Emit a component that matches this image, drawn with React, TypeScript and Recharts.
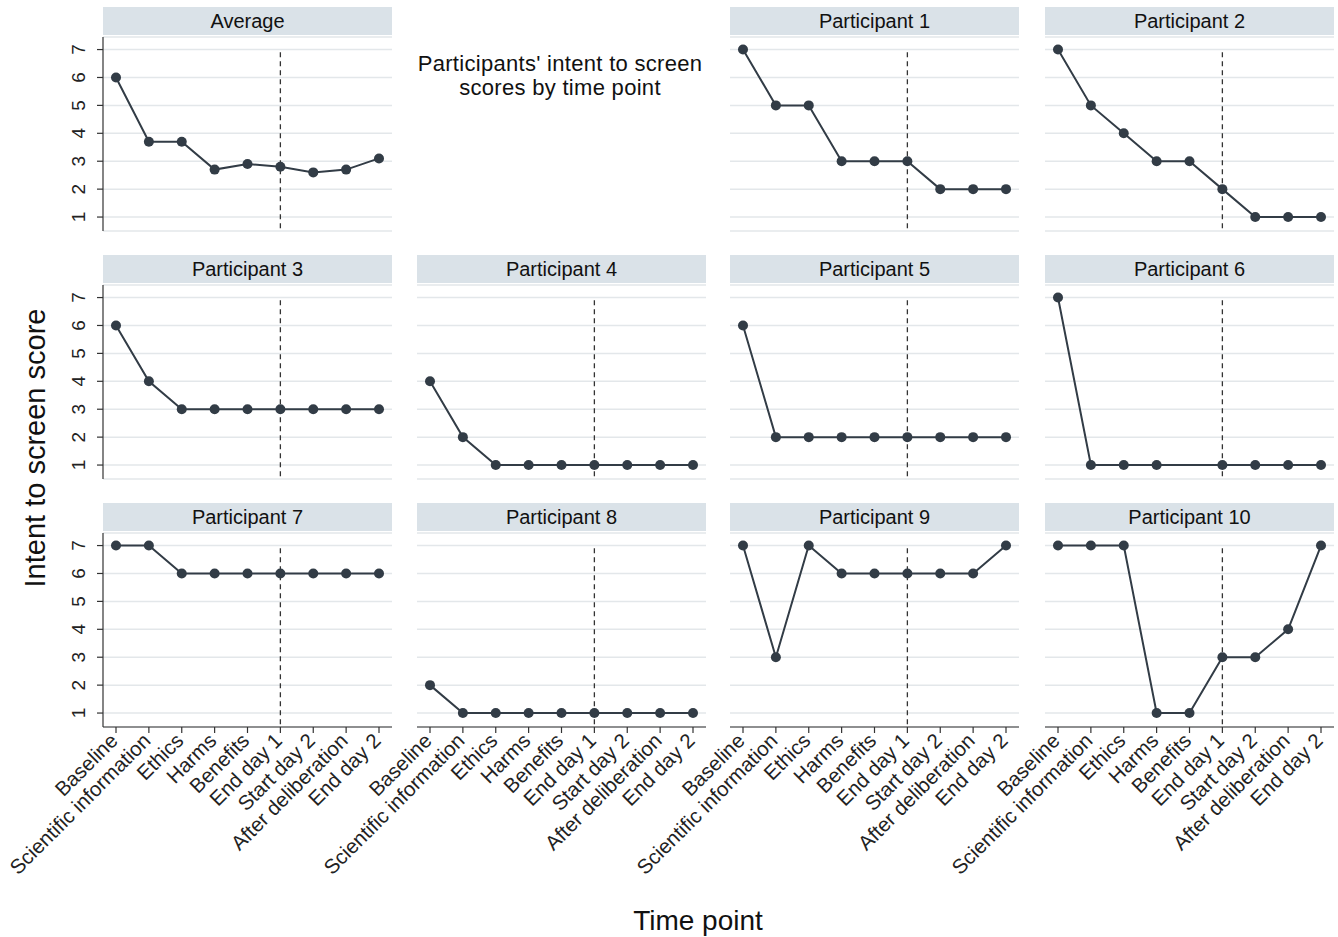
import React from 'react';
import { LineChart, Line, XAxis, YAxis, CartesianGrid, ReferenceLine } from 'recharts';

const timePoints = [
    'Baseline',
    'Scientific information',
    'Ethics',
    'Harms',
    'Benefits',
    'End day 1',
    'Start day 2',
    'After deliberation',
    'End day 2',
];

const scoreTicks = [1, 2, 3, 4, 5, 6, 7];

const average = [6, 3.7, 3.7, 2.7, 2.9, 2.8, 2.6, 2.7, 3.1];
const participant1 = [7, 5, 5, 3, 3, 3, 2, 2, 2];
const participant2 = [7, 5, 4, 3, 3, 2, 1, 1, 1];
const participant3 = [6, 4, 3, 3, 3, 3, 3, 3, 3];
const participant4 = [4, 2, 1, 1, 1, 1, 1, 1, 1];
const participant5 = [6, 2, 2, 2, 2, 2, 2, 2, 2];
const participant6 = [7, 1, 1, 1, null, 1, 1, 1, 1];
const participant7 = [7, 7, 6, 6, 6, 6, 6, 6, 6];
const participant8 = [2, 1, 1, 1, 1, 1, 1, 1, 1];
const participant9 = [7, 3, 7, 6, 6, 6, 6, 6, 7];
const participant10 = [7, 7, 7, 1, 1, 3, 3, 4, 7];

// panels in reading order, null = the cell holding the title
const panels: ({ title: string; values: (number | null)[] } | null)[] = [
    { title: 'Average', values: average },
    null,
    { title: 'Participant 1', values: participant1 },
    { title: 'Participant 2', values: participant2 },
    { title: 'Participant 3', values: participant3 },
    { title: 'Participant 4', values: participant4 },
    { title: 'Participant 5', values: participant5 },
    { title: 'Participant 6', values: participant6 },
    { title: 'Participant 7', values: participant7 },
    { title: 'Participant 8', values: participant8 },
    { title: 'Participant 9', values: participant9 },
    { title: 'Participant 10', values: participant10 },
];

const FONT = 'Arial, "Liberation Sans", Helvetica, sans-serif';
const INK = '#323c46';
const COL_LEFT = [103, 417, 730, 1045];
const ROW_TOP = [37, 285, 533];
const PLOT_W = 289;
const PLOT_H = 194;
const Y_AXIS_W = 103;
const X_AXIS_H = 200;

const YTick = ({ x, y, payload }: any) => (
    <g transform={`translate(${x - 10},${y}) rotate(-90)`}>
        <text textAnchor="middle" style={{ fontSize: 19 }} fill="#222" fontFamily={FONT}>
            {payload.value}
        </text>
    </g>
);

const XTick = ({ x, y, payload }: any) => (
    <g transform={`translate(${x + 3},${y + 7}) rotate(-45)`}>
        <text textAnchor="end" style={{ fontSize: 20.5 }} fill="#222" fontFamily={FONT}>
            {payload.value}
        </text>
    </g>
);

function Panel({ title, values, col, row }: { title: string; values: (number | null)[]; col: number; row: number }) {
    const data = timePoints.map((t, i) => ({ time: t, score: values[i] }));
    const showY = col === 0;
    const showX = row === 2;
    const left = COL_LEFT[col] - (showY ? Y_AXIS_W : 0);
    const top = ROW_TOP[row];

    return (
        <>
            <div
                style={{
                    position: 'absolute',
                    left: COL_LEFT[col],
                    top: top - 30,
                    width: PLOT_W,
                    height: 28,
                    background: '#dae2e8',
                    color: '#111',
                    fontSize: 20,
                    lineHeight: '28px',
                    textAlign: 'center',
                    fontFamily: FONT,
                }}
            >
                {title}
            </div>
            <div style={{ position: 'absolute', left, top }}>
                <LineChart
                    width={PLOT_W + (showY ? Y_AXIS_W : 0)}
                    height={PLOT_H + (showX ? X_AXIS_H : 0)}
                    data={data}
                    margin={{ top: 0, right: 0, bottom: 0, left: 0 }}
                >
                    <CartesianGrid vertical={false} stroke="#e3e7ea" strokeWidth={1.5} />
                    <XAxis
                        dataKey="time"
                        hide={!showX}
                        height={X_AXIS_H}
                        padding={{ left: 13, right: 13 }}
                        interval={0}
                        tick={<XTick />}
                        stroke="#333"
                        strokeWidth={1.2}
                        tickLine={{ stroke: '#333' }}
                    />
                    <YAxis
                        type="number"
                        domain={[0.5, 7.45]}
                        ticks={scoreTicks}
                        allowDataOverflow
                        hide={!showY}
                        width={Y_AXIS_W}
                        tick={<YTick />}
                        stroke="#333"
                        strokeWidth={1.2}
                        tickLine={{ stroke: '#333' }}
                    />
                    <ReferenceLine
                        segment={[
                            { x: 'End day 1', y: 6.9 },
                            { x: 'End day 1', y: 0.5 },
                        ]}
                        stroke="#333"
                        strokeWidth={1.3}
                        strokeDasharray="5 4"
                    />
                    <Line
                        type="linear"
                        dataKey="score"
                        stroke={INK}
                        strokeWidth={2}
                        dot={{ r: 5, fill: INK, stroke: INK, strokeWidth: 0 }}
                        activeDot={false}
                        connectNulls
                        isAnimationActive={false}
                    />
                </LineChart>
            </div>
        </>
    );
}

export default function App() {
    return (
        <div
            style={{
                position: 'absolute',
                left: 0,
                top: 0,
                width: 1338,
                height: 937,
                background: '#fff',
                fontFamily: FONT,
                overflow: 'hidden',
            }}
        >
            <style>{`.recharts-surface{overflow:visible}`}</style>
            {panels.map((p, i) =>
                p ? <Panel key={p.title} title={p.title} values={p.values} col={i % 4} row={Math.floor(i / 4)} /> : null
            )}
            <svg
                width={1338}
                height={937}
                style={{ position: 'absolute', left: 0, top: 0, pointerEvents: 'none' }}
            >
                <text x={560} y={71} textAnchor="middle" fontSize={22} letterSpacing={0.3} fill="#111" fontFamily={FONT}>
                    Participants' intent to screen
                </text>
                <text x={560} y={95} textAnchor="middle" fontSize={22} letterSpacing={0.3} fill="#111" fontFamily={FONT}>
                    scores by time point
                </text>
                <text
                    transform="translate(45,448) rotate(-90)"
                    textAnchor="middle"
                    fontSize={29}
                    fill="#111"
                    fontFamily={FONT}
                >
                    Intent to screen score
                </text>
                <text x={698} y={930} textAnchor="middle" fontSize={28} fill="#111" fontFamily={FONT}>
                    Time point
                </text>
            </svg>
        </div>
    );
}
